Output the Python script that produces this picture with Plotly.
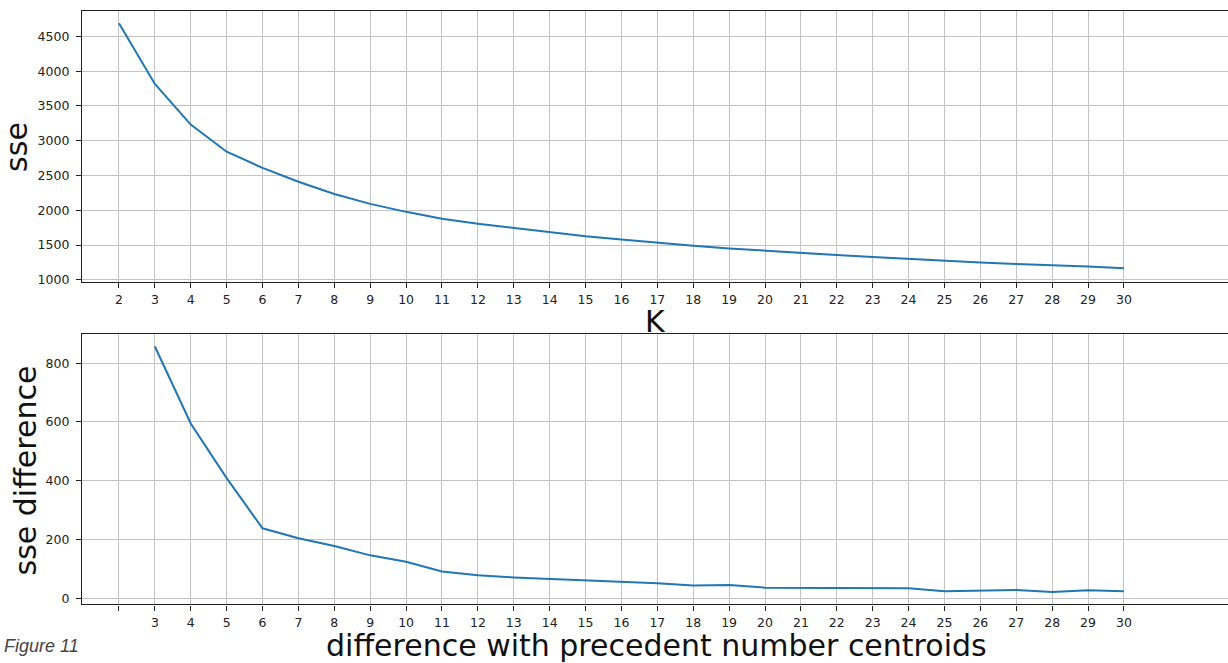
import plotly.graph_objects as go

# ---- data ----
k_top = list(range(2, 31))
sse = [4690, 3816, 3232, 2843, 2610, 2411, 2235, 2093, 1978, 1879, 1808, 1746,
       1684, 1627, 1580, 1532, 1490, 1452, 1418, 1385, 1357, 1328, 1300, 1276,
       1252, 1229, 1214, 1191, 1167]

k_bottom = list(range(3, 31))
sse_diff = [857, 595, 409, 238, 204, 178, 146, 124, 91, 78, 71, 66, 59, 54, 51,
            43, 45, 36, 35, 34, 33, 34, 24, 25, 28, 21, 27, 24]

top_tickvals = list(range(2, 31))
top_ticktext = [str(v) for v in top_tickvals]
bottom_tickvals = list(range(2, 31))
bottom_ticktext = [""] + [str(v) for v in range(3, 31)]
top_yticks = [1000, 1500, 2000, 2500, 3000, 3500, 4000, 4500]
bottom_yticks = [0, 200, 400, 600, 800]

W, H = 1228, 663
LINE = "#1f77b4"
GRID = "#c4c4c4"
FONT = "DejaVu Sans"
TICKFONT = dict(family=FONT, size=12.5, color="#222222")


def py(pix):
    return (H - pix) / H


fig = go.Figure()
fig.add_trace(go.Scatter(x=k_top, y=sse, mode="lines",
                         line=dict(color=LINE, width=2),
                         xaxis="x", yaxis="y", showlegend=False,
                         hoverinfo="skip"))
fig.add_trace(go.Scatter(x=k_bottom, y=sse_diff, mode="lines",
                         line=dict(color=LINE, width=2),
                         xaxis="x2", yaxis="y2", showlegend=False,
                         hoverinfo="skip"))

xdom = [82 / W, 1.0]
common_x = dict(showgrid=True, gridcolor=GRID, gridwidth=1, zeroline=False,
                showline=True, linecolor="#222222", linewidth=1.2, mirror=True,
                ticks="outside", ticklen=5, tickcolor="#222222", tickwidth=1,
                tickfont=TICKFONT, range=[0.97, 32.9], tickmode="array",
                ticklabelstandoff=1)
common_y = dict(showgrid=True, gridcolor=GRID, gridwidth=1, zeroline=False,
                showline=True, linecolor="#222222", linewidth=1.2, mirror=False,
                ticks="outside", ticklen=5, tickcolor="#222222", tickwidth=1,
                tickfont=TICKFONT, tickmode="array", ticklabelstandoff=4)

fig.update_layout(
    width=W, height=H,
    margin=dict(l=0, r=0, t=0, b=0),
    paper_bgcolor="white", plot_bgcolor="white",
    xaxis=dict(domain=xdom, anchor="y", tickvals=top_tickvals,
               ticktext=top_ticktext, **common_x),
    yaxis=dict(domain=[py(284), py(11)], anchor="x", range=[972, 4866],
               tickvals=top_yticks, **common_y),
    xaxis2=dict(domain=xdom, anchor="y2", tickvals=bottom_tickvals,
                ticktext=bottom_ticktext, **common_x),
    yaxis2=dict(domain=[py(609), py(337)], anchor="x2", range=[-21, 898],
                tickvals=bottom_yticks, **common_y),
    annotations=[
        dict(text="K", x=(82 + 1228) / 2 / W, y=py(323.5), xref="paper",
             yref="paper", xanchor="center", yanchor="middle",
             showarrow=False, font=dict(family=FONT, size=30, color="#111111")),
        dict(text="difference with precedent number centroids",
             x=656 / W, y=py(650), xref="paper", yref="paper",
             xanchor="center", yanchor="middle", showarrow=False,
             font=dict(family=FONT, size=30, color="#111111")),
        dict(text="sse", x=17 / W, y=py(148), xref="paper", yref="paper",
             xanchor="center", yanchor="middle", textangle=-90,
             showarrow=False, font=dict(family=FONT, size=30, color="#111111")),
        dict(text="sse difference", x=25 / W, y=py(474), xref="paper",
             yref="paper", xanchor="center", yanchor="middle", textangle=-90,
             showarrow=False, font=dict(family=FONT, size=30, color="#111111")),
        dict(text="<i>Figure 11</i>", x=2 / W, y=py(651), xref="paper",
             yref="paper", xanchor="left", yanchor="middle", showarrow=False,
             font=dict(family="Liberation Sans", size=18, color="#444444")),
    ],
)

fig.write_html("out.html")
